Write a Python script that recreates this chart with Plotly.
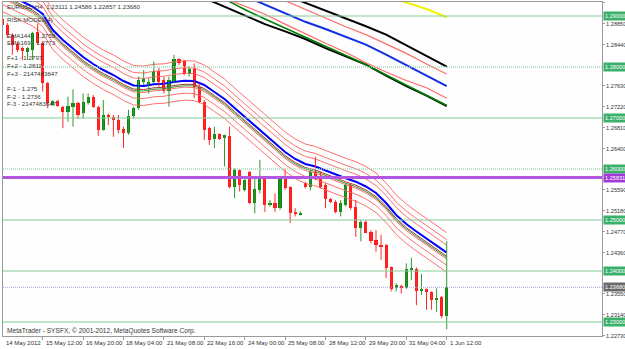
import plotly.graph_objects as go

# ---------------- data ----------------
OPEN = [1.2895, 1.2882, 1.2863, 1.2846, 1.2837, 1.2830, 1.2833, 1.2868, 1.2847, 1.2768,
        1.2726, 1.2734, 1.2722, 1.2712, 1.2722, 1.2729, 1.2709, 1.2729, 1.2742, 1.2722,
        1.2677, 1.2706, 1.2701, 1.2696, 1.2679, 1.2671, 1.2703, 1.2719, 1.2771, 1.2767,
        1.2771, 1.2793, 1.2775, 1.2752, 1.2771, 1.2815, 1.2811, 1.2786, 1.2797, 1.2761,
        1.2732, 1.2680, 1.2658, 1.2669, 1.2660, 1.2665, 1.2565, 1.2598, 1.2559, 1.2595,
        1.2533, 1.2559, 1.2582, 1.2529, 1.2533, 1.2523, 1.2582, 1.2564, 1.2516, 1.2511,
        1.2573, 1.2565, 1.2595, 1.2585, 1.2569, 1.2541, 1.2536, 1.2516, 1.2529, 1.2569,
        1.2526, 1.2484, 1.2497, 1.2477, 1.2461, 1.2451, 1.2451, 1.2407, 1.2366, 1.2371,
        1.2366, 1.2403, 1.2403, 1.2361, 1.2364, 1.2359, 1.2344, 1.2350, 1.23111]
HIGH = [1.2899, 1.2886, 1.2866, 1.2849, 1.2840, 1.2839, 1.2869, 1.2885, 1.2849, 1.2771,
        1.2735, 1.2736, 1.2724, 1.2742, 1.2756, 1.2732, 1.2748, 1.2748, 1.2745, 1.2724,
        1.2735, 1.2709, 1.2706, 1.2706, 1.2683, 1.2716, 1.2722, 1.2781, 1.2794, 1.2778,
        1.2811, 1.2798, 1.2781, 1.2781, 1.2824, 1.2817, 1.2814, 1.2802, 1.2807, 1.2768,
        1.2735, 1.2683, 1.2683, 1.2670, 1.2667, 1.2683, 1.2601, 1.2599, 1.2580, 1.2596,
        1.2582, 1.2618, 1.2583, 1.2539, 1.2552, 1.2585, 1.2601, 1.2566, 1.2523, 1.2517,
        1.2575, 1.2598, 1.2624, 1.2595, 1.2572, 1.2543, 1.2539, 1.2539, 1.2572, 1.2572,
        1.2539, 1.2500, 1.2500, 1.2480, 1.2480, 1.2471, 1.2453, 1.2409, 1.2376, 1.2373,
        1.2415, 1.2426, 1.2407, 1.2394, 1.2366, 1.2360, 1.2366, 1.2351, 1.24586]
LOW = [1.2878, 1.2857, 1.2824, 1.2829, 1.2814, 1.2814, 1.2814, 1.2844, 1.2752, 1.2719,
       1.2724, 1.2722, 1.2680, 1.2693, 1.2683, 1.2699, 1.2699, 1.2726, 1.2720, 1.2665,
       1.2675, 1.2686, 1.2663, 1.2670, 1.2641, 1.2667, 1.2699, 1.2716, 1.2765, 1.2748,
       1.2768, 1.2761, 1.2748, 1.2722, 1.2768, 1.2804, 1.2784, 1.2781, 1.2739, 1.2729,
       1.2657, 1.2647, 1.2641, 1.2657, 1.2605, 1.2562, 1.2543, 1.2556, 1.2556, 1.2531,
       1.2513, 1.2552, 1.2516, 1.2526, 1.2516, 1.2520, 1.2559, 1.2494, 1.2507, 1.2509,
       1.2562, 1.2558, 1.2578, 1.2562, 1.2523, 1.2533, 1.2513, 1.2507, 1.2526, 1.2520,
       1.2467, 1.2458, 1.2474, 1.2454, 1.2438, 1.2422, 1.2386, 1.2360, 1.2360, 1.2356,
       1.2365, 1.2382, 1.2333, 1.2353, 1.2324, 1.2324, 1.2320, 1.2307, 1.22857]
CLOSE = [1.2882, 1.2863, 1.2843, 1.2833, 1.2832, 1.2837, 1.2866, 1.2847, 1.2768, 1.2729,
         1.2733, 1.2724, 1.2712, 1.2724, 1.2729, 1.2706, 1.2732, 1.2742, 1.2722, 1.2677,
         1.2706, 1.2703, 1.2696, 1.2677, 1.2671, 1.2703, 1.2719, 1.2775, 1.2776, 1.2771,
         1.2792, 1.2771, 1.2752, 1.2775, 1.2815, 1.2807, 1.2786, 1.2797, 1.2761, 1.2732,
         1.2677, 1.2657, 1.2669, 1.2658, 1.2667, 1.2565, 1.2598, 1.2569, 1.2578, 1.2533,
         1.2560, 1.2582, 1.2529, 1.2533, 1.2523, 1.2582, 1.2562, 1.2514, 1.2511, 1.2514,
         1.2565, 1.2595, 1.2585, 1.2565, 1.2541, 1.2536, 1.2516, 1.2533, 1.2569, 1.2523,
         1.2484, 1.2497, 1.2475, 1.2458, 1.2451, 1.2449, 1.2405, 1.2364, 1.2373, 1.2368,
         1.2403, 1.2405, 1.2360, 1.2363, 1.2359, 1.2344, 1.2346, 1.2312, 1.23680]

# fast EMA (blue) sampled every 2 bars
FAST_X = [0, 4, 6, 8, 10, 12, 14, 16, 18, 20, 22, 24, 26, 28, 30, 32, 34, 36, 38, 40, 42, 44,
          46, 48, 50, 52, 54, 56, 58, 60, 62, 64, 66, 68, 70, 72, 74, 76, 78, 80, 82, 84, 86, 88]
FAST_EMA = [1.29471, 1.29284, 1.29186, 1.29039, 1.28725, 1.28529, 1.28353, 1.28196, 1.28059,
            1.27941, 1.27843, 1.27725, 1.27637, 1.27627, 1.27661, 1.27671, 1.27706, 1.27731,
            1.27725, 1.27647, 1.27510, 1.27373, 1.27196, 1.27020, 1.26843, 1.26667, 1.26490,
            1.26333, 1.26196, 1.26098, 1.26049, 1.25971, 1.25882, 1.25818, 1.25751, 1.25657,
            1.25529, 1.25333, 1.25098, 1.24922, 1.24775, 1.24637, 1.24490, 1.24359]
# envelope deviations around the fast EMA
BAND_DEV = [0.00392, 0.00255, 0.00147, -0.00127, -0.00245, -0.00382]
GREEN_DEV = -0.00098
BROWN_DEV = -0.00069

# slow tunnel lines sampled every 4 bars (aligned to tail of SLOW_X)
SLOW_X = [40, 44, 48, 52, 56, 60, 64, 68, 72, 76, 80, 84, 88]
UPPER_BLACK = [1.29412, 1.29261, 1.29110, 1.28955, 1.28798, 1.28635, 1.28424, 1.28208, 1.28006]
UPPER_RED = [1.29471, 1.29298, 1.29125, 1.28953, 1.28790, 1.28635, 1.28457, 1.28267, 1.28057, 1.27863]
SLOW_BLUE = [1.29392, 1.29222, 1.29051, 1.28886, 1.28745, 1.28592, 1.28439, 1.28241, 1.28039,
             1.27833, 1.27627]
LOWER_RED = [1.29510, 1.29347, 1.29190, 1.29035, 1.28841, 1.28647, 1.28467, 1.28288, 1.28082,
             1.27902, 1.27735, 1.27594, 1.27386]
LOWER_BLACK = [1.29353, 1.29184, 1.29014, 1.28841, 1.28698, 1.28549, 1.28369, 1.28204, 1.28047,
               1.27831, 1.27624, 1.27437, 1.27235]
SLOW_GREEN = [1.29333, 1.29127, 1.28941, 1.28761, 1.28582, 1.28402, 1.28222, 1.28049, 1.27843,
              1.27647, 1.27455, 1.27245]
YELLOW = [1.29392, 1.29261, 1.29137, 1.28975]

# axis labels / levels
X_TICK_BARS = [0, 8, 16, 24, 32, 40, 48, 56, 64, 72, 80, 88]
X_TICK_TEXT = ["14 May 2012", "15 May 12:00", "16 May 20:00", "18 May 04:00", "21 May 08:00",
               "22 May 16:00", "24 May 00:00", "25 May 08:00", "28 May 12:00", "29 May 20:00",
               "31 May 04:00", "1 Jun 12:00"]
Y_TICKS = [1.29260, 1.28850, 1.28440, 1.27630, 1.27220, 1.26810, 1.26400, 1.25590, 1.25180,
           1.24770, 1.24360, 1.23550, 1.23140, 1.22730]
GREEN_LEVELS = [1.29, 1.28, 1.27, 1.26, 1.25, 1.24, 1.23]
DOTTED_LEVELS = [1.28, 1.26]
PURPLE_LEVEL = 1.25831
BID = 1.23680

INFO_LINES = ["EURUSD,H4  1.23111 1.24586 1.22857 1.23680", "RISK MODEL(4)",
              "EMA144 - 1.2758", "EMA169 - 1.2773", "F+1 - 1.2797", "F+2 - 1.2811",
              "F+3 - 2147483647", "F-1 - 1.275", "F-2 - 1.2736", "F-3 - 2147483647"]
FOOTER = "MetaTrader - SYSFX, © 2001-2012, MetaQuotes Software Corp."

# ---------------- figure ----------------
FONT = "Liberation Sans"
X_RANGE = [0.14, 118.75]
fig = go.Figure()

n = len(OPEN)
idx = list(range(n))

def tail(xs, vals):
    return xs[len(xs) - len(vals):]

slow_specs = [
    (LOWER_BLACK, "#000000", 2),
    (SLOW_GREEN, "#008000", 1.5),
    (LOWER_RED, "#ff6b6b", 1.2),
    (SLOW_BLUE, "#1030e0", 2),
    (UPPER_RED, "#ff6b6b", 1.2),
    (UPPER_BLACK, "#000000", 2),
]
for vals, col, w in slow_specs:
    fig.add_trace(go.Scatter(x=tail(SLOW_X, vals), y=vals, mode="lines",
                             line=dict(color=col, width=w), hoverinfo="skip"))
fig.add_trace(go.Scatter(x=SLOW_X[-len(YELLOW):], y=YELLOW, mode="lines",
                         line=dict(color="#f2f200", width=2), hoverinfo="skip"))

# fast ribbon
for d in BAND_DEV:
    fig.add_trace(go.Scatter(x=FAST_X, y=[v + d for v in FAST_EMA], mode="lines",
                             line=dict(color="#ff7070", width=1), hoverinfo="skip"))
fig.add_trace(go.Scatter(x=FAST_X, y=[v + GREEN_DEV for v in FAST_EMA], mode="lines",
                         line=dict(color="#3c9c3c", width=1), hoverinfo="skip"))
fig.add_trace(go.Scatter(x=FAST_X, y=[v + BROWN_DEV for v in FAST_EMA], mode="lines",
                         line=dict(color="#a03c3c", width=1), hoverinfo="skip"))
fig.add_trace(go.Scatter(x=FAST_X, y=FAST_EMA, mode="lines",
                         line=dict(color="#0000ff", width=2), hoverinfo="skip"))

# candles: wicks
for up, col in ((True, "#2f9a2f"), (False, "#ff2a2a")):
    wx, wy = [], []
    for i in idx:
        if (CLOSE[i] >= OPEN[i]) == up:
            wx += [i, i, None]
            wy += [LOW[i], HIGH[i], None]
    fig.add_trace(go.Scatter(x=wx, y=wy, mode="lines", line=dict(color=col, width=1),
                             hoverinfo="skip"))
# candles: bodies
MIN_BODY = 0.00004
for up, col in ((True, "#0e870e"), (False, "#ff1a1a")):
    bx, bb, bh = [], [], []
    for i in idx:
        if (CLOSE[i] >= OPEN[i]) == up:
            bx.append(i)
            bb.append(min(OPEN[i], CLOSE[i]))
            bh.append(max(abs(CLOSE[i] - OPEN[i]), MIN_BODY))
    fig.add_trace(go.Bar(x=bx, y=bh, base=bb, width=0.62, marker=dict(color=col, line=dict(width=0)),
                         hoverinfo="skip"))

# horizontal level lines
shapes = []
for lv in GREEN_LEVELS:
    dotted = lv in DOTTED_LEVELS
    shapes.append(dict(type="line", xref="paper", x0=0, x1=1, yref="y", y0=lv, y1=lv,
                       line=dict(color="#a3dab4" if dotted else "#84cc9a",
                                 width=1.6 if dotted else 1.2,
                                 dash="1px,1px" if dotted else "solid"), layer="above"))
shapes.append(dict(type="line", xref="paper", x0=0, x1=1, yref="y", y0=PURPLE_LEVEL, y1=PURPLE_LEVEL,
                   line=dict(color="#b457e0", width=3), layer="above"))
shapes.append(dict(type="line", xref="paper", x0=0, x1=1, yref="y", y0=BID, y1=BID,
                   line=dict(color="#a4aad8", width=1, dash="1px,1px"), layer="above"))

annotations = []
def box(level, color):
    annotations.append(dict(xref="paper", x=1, xanchor="left", xshift=1, yref="y", y=level,
                            yanchor="middle", text=f"{level:.5f}", showarrow=False,
                            bgcolor=color, borderpad=1,
                            font=dict(family=FONT, size=5.6, color="white")))
for lv in GREEN_LEVELS:
    box(lv, "#3bb06a")
box(PURPLE_LEVEL, "#a23ad8")
box(BID, "#6a6a6a")

# x labels (left aligned at tick)
x_span = X_RANGE[1] - X_RANGE[0]
for b, t in zip(X_TICK_BARS, X_TICK_TEXT):
    annotations.append(dict(xref="paper", x=max((b - X_RANGE[0]) / x_span, 0), xanchor="left",
                            xshift=1, yref="paper", y=0,
                            yanchor="top", yshift=-2, text=t, showarrow=False,
                            font=dict(family=FONT, size=6, color="#333333")))

info_y = [6, 19.5, 35, 42.5, 57, 65, 73, 88, 96, 103.5]
for t, py in zip(INFO_LINES, info_y):
    annotations.append(dict(xref="paper", x=0, xanchor="left", xshift=2, yref="paper", y=1,
                            yanchor="middle", yshift=-(py - 2), text=t, showarrow=False,
                            font=dict(family=FONT, size=6.2, color="#3a3a3a")))
annotations.append(dict(xref="paper", x=0, xanchor="left", xshift=2, yref="paper", y=0,
                        yanchor="middle", yshift=5, text=FOOTER, showarrow=False,
                        font=dict(family=FONT, size=6.6, color="#3a3a3a")))

fig.update_layout(
    width=625, height=349,
    margin=dict(l=3, r=23, t=2, b=13, autoexpand=False),
    paper_bgcolor="#ffffff", plot_bgcolor="#fdfefd",
    showlegend=False, barmode="overlay", bargap=0,
    shapes=shapes, annotations=annotations,
    xaxis=dict(range=X_RANGE, showgrid=False, zeroline=False, showline=True, mirror=True,
               linecolor="#9a9a9a", linewidth=1, ticks="outside", ticklen=3, tickcolor="#9a9a9a",
               tickvals=X_TICK_BARS, showticklabels=False, fixedrange=True, automargin=False),
    yaxis=dict(range=[1.227255, 1.292745], side="right", showgrid=False, zeroline=False,
               showline=True, mirror=True, linecolor="#9a9a9a", linewidth=1,
               ticks="outside", ticklen=2, tickcolor="#9a9a9a",
               tickvals=Y_TICKS, ticktext=[f"{v:.5f}" for v in Y_TICKS], automargin=False,
               tickfont=dict(family=FONT, size=5.6, color="#333333"), fixedrange=True),
)

fig.write_html("out.html")
